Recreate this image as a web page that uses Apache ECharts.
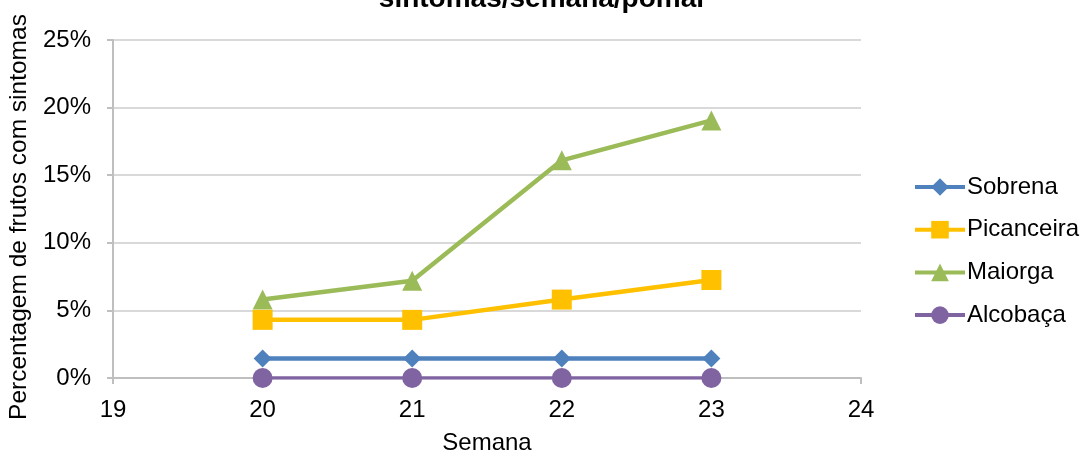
<!DOCTYPE html>
<html>
<head>
<meta charset="utf-8">
<script src="https://cdn.jsdelivr.net/npm/echarts@6/dist/echarts.min.js"></script>
<style>
html,body{margin:0;padding:0;background:#fff;}
#c{width:1086px;height:454px;}
</style>
</head>
<body>
<div id="c"></div>
<script>
const weeks = [20, 21, 22, 23];
const sobrena = [1.45, 1.45, 1.45, 1.45];
const picanceira = [4.3, 4.3, 5.8, 7.25];
const maiorga = [5.8, 7.2, 16.1, 19.05];
const alcobaca = [0, 0, 0, 0];
const seriesNames = ['Sobrena', 'Picanceira', 'Maiorga', 'Alcobaça'];
const yTicks = [0, 5, 10, 15, 20, 25];

const FONT = '"Liberation Sans", Arial, sans-serif';
const chart = echarts.init(document.getElementById('c'));

function pairs(vals){ return weeks.map((w,i)=>[w, vals[i]]); }

const styles = [
  {color:'#4F81BD', symbol:'diamond', size:18, width:4.5},
  {color:'#FFC000', symbol:'rect', size:20, width:4.5},
  {color:'#9BBB59', symbol:'triangle', size:20, width:4.5},
  {color:'#8064A2', symbol:'circle', size:20, width:3.5}
];
const dataSets = [sobrena, picanceira, maiorga, alcobaca];

chart.setOption({
  backgroundColor:'#fff',
  animation:false,
  title:{
    text:'sintomas/semana/pomar',
    left:'center',
    top:-20,
    textStyle:{fontFamily:FONT, fontWeight:'bold', fontSize:28, color:'#000'}
  },
  grid:{left:113, right:225, top:40, bottom:76, containLabel:false, outerBoundsMode:'none'},
  legend:{
    orient:'vertical',
    left:913,
    top:175,
    padding:0,
    itemWidth:50,
    itemHeight:22,
    itemGap:18.7,
    data:seriesNames,
    lineStyle:{width:4},
    textStyle:{fontFamily:FONT, fontSize:24, color:'#000', lineHeight:24, padding:[0,0,0,-3]}
  },
  xAxis:{
    type:'value', min:19, max:24, interval:1,
    name:'Semana', nameLocation:'middle', nameGap:53,
    nameTextStyle:{fontFamily:FONT, fontSize:24, color:'#000'},
    axisLine:{show:true, lineStyle:{color:'#BFBFBF', width:2}},
    axisTick:{show:true, length:6, lineStyle:{color:'#BFBFBF', width:2}},
    axisLabel:{fontFamily:FONT, fontSize:24, color:'#000', margin:20},
    splitLine:{show:false}
  },
  yAxis:{
    type:'value', min:0, max:25, interval:5,
    name:'Percentagem de frutos com sintomas', nameLocation:'middle', nameGap:81,
    nameTextStyle:{fontFamily:FONT, fontSize:24.5, color:'#000', padding:[0,16,0,0]},
    axisLine:{show:true, lineStyle:{color:'#BFBFBF', width:2}},
    axisTick:{show:true, length:6, lineStyle:{color:'#BFBFBF', width:2}},
    axisLabel:{fontFamily:FONT, fontSize:24, color:'#000', margin:22,
      formatter:function(v){ return yTicks.indexOf(v) >= 0 ? v + '%' : ''; }},
    splitLine:{show:true, lineStyle:{color:'#D9D9D9', width:2}}
  },
  series: seriesNames.map((n,i)=>({
    name:n, type:'line',
    data:pairs(dataSets[i]),
    symbol:styles[i].symbol, symbolSize:styles[i].size,
    showAllSymbol:true,
    lineStyle:{color:styles[i].color, width:styles[i].width},
    itemStyle:{color:styles[i].color, borderWidth:0},
    z: 10 - i
  }))
});
</script>
</body>
</html>
